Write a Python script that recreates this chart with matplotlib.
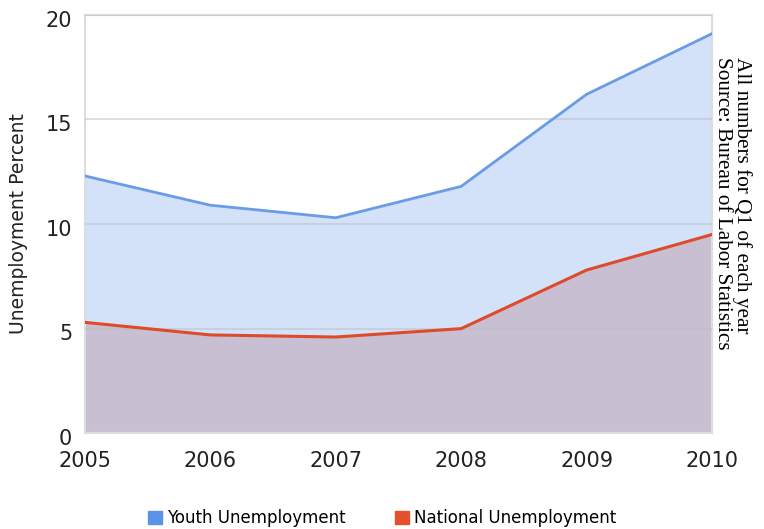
import matplotlib
matplotlib.use("Agg")
from matplotlib import pyplot as plt
from matplotlib.patches import Patch
from matplotlib.transforms import ScaledTranslation

years = [2005, 2006, 2007, 2008, 2009, 2010]
youth = [12.3, 10.9, 10.3, 11.8, 16.2, 19.1]
national = [5.3, 4.7, 4.6, 5.0, 7.8, 9.5]
yticks = [0, 5, 10, 15, 20]

youth_line = "#6a9be6"
youth_fill = "#d3e2f9"
nat_line = "#dd4b2a"
nat_fill = "#c9bfd2"

fig = plt.figure(figsize=(7.64, 5.29), dpi=100)
ax = fig.add_axes([0.111, 0.181, 0.821, 0.791])

ax.fill_between(years, youth, 0, color=youth_fill, lw=0, zorder=1)
ax.fill_between(years, national, 0, color=nat_fill, lw=0, zorder=2)
for y in yticks[1:]:
    ax.axhline(y, color="#bbbbbb", lw=1.5, alpha=0.45, zorder=3)
ax.plot(years, youth, color=youth_line, lw=2, zorder=4)
ax.plot(years, national, color=nat_line, lw=2.2, zorder=4)

ax.set_xlim(2005, 2010)
ax.set_ylim(0, 20)
ax.set_xticks(years)
ax.set_yticks(yticks)
ax.tick_params(labelsize=15, length=0, colors="#222222")
ax.tick_params(axis="x", pad=13)
ax.tick_params(axis="y", pad=9)
# labels sit just under their grid line, like the original
shift = ScaledTranslation(0, 3 / 72, fig.dpi_scale_trans)
for lab in ax.get_yticklabels():
    lab.set_va("top")
    lab.set_transform(lab.get_transform() + shift)
for s in ax.spines.values():
    s.set_color("#dddddd")
    s.set_linewidth(1.5)
ax.set_ylabel("Unemployment Percent", fontsize=13.5, color="#222222")
ax.yaxis.set_label_coords(-0.090, 0.5)

fig.text(0.959, 0.893, "All numbers for Q1 of each year\nSource: Bureau of Labor Statistics",
         rotation=-90, ha="center", va="top", multialignment="left",
         family="Liberation Serif", fontsize=15.3, linespacing=1.0)

handles = [Patch(color="#5b93ea", label="Youth Unemployment"),
           Patch(color="#e3502a", label="National Unemployment")]
fig.legend(handles=handles, loc="center", bbox_to_anchor=(0.5, 0.02), ncol=2,
           frameon=False, fontsize=12, handlelength=0.8, handleheight=0.8,
           handletextpad=0.3, columnspacing=3)

fig.savefig("out.png", dpi=100)
